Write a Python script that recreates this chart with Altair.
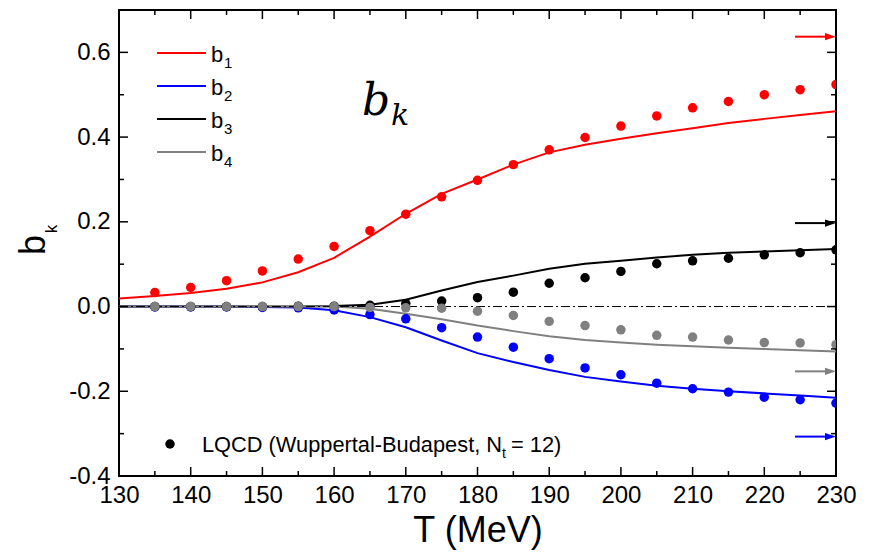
import altair as alt
import pandas as pd

# ---------------- data ----------------
series = ["b1", "b2", "b3", "b4"]
colors = ["#ff0000", "#0000ff", "#000000", "#808080"]

T_line = [130, 135, 140, 145, 150, 155, 160, 165, 170, 175, 180,
          185, 190, 195, 200, 205, 210, 215, 220, 225, 230]
b1_line = [0.019, 0.025, 0.032, 0.042, 0.057, 0.081, 0.115, 0.165, 0.219, 0.266, 0.300,
           0.335, 0.364, 0.382, 0.396, 0.409, 0.421, 0.433, 0.443, 0.452, 0.461]
b2_line = [0.0, 0.0, 0.0, 0.0, -0.001, -0.002, -0.009, -0.025, -0.049, -0.080, -0.110,
           -0.131, -0.150, -0.166, -0.177, -0.187, -0.194, -0.200, -0.205, -0.210, -0.215]
b3_line = [0.0, 0.0, 0.0, 0.0, 0.0, 0.0, 0.001, 0.004, 0.016, 0.038, 0.058,
           0.073, 0.089, 0.101, 0.108, 0.116, 0.122, 0.127, 0.130, 0.133, 0.136]
b4_line = [0.0, 0.0, 0.0, 0.0, 0.0, 0.0, 0.0, -0.005, -0.017, -0.030, -0.045,
           -0.058, -0.070, -0.079, -0.085, -0.090, -0.094, -0.097, -0.100, -0.103, -0.106]

T_pts = [135, 140, 145, 150, 155, 160, 165, 170, 175, 180,
         185, 190, 195, 200, 205, 210, 215, 220, 225, 230]
b1_pts = [0.033, 0.045, 0.061, 0.084, 0.112, 0.142, 0.179, 0.218, 0.259, 0.298,
          0.335, 0.370, 0.399, 0.426, 0.450, 0.469, 0.484, 0.500, 0.512, 0.524]
b2_pts = [-0.001, -0.001, -0.001, -0.002, -0.003, -0.008, -0.019, -0.029, -0.050, -0.072,
          -0.096, -0.123, -0.145, -0.161, -0.181, -0.194, -0.202, -0.214, -0.220, -0.228]
b3_pts = [0.0, 0.0, 0.0, 0.0, 0.001, 0.001, 0.003, 0.007, 0.013, 0.021,
          0.034, 0.055, 0.068, 0.083, 0.101, 0.108, 0.114, 0.122, 0.127, 0.134]
b4_pts = [0.0, 0.0, 0.0, 0.0, 0.0, 0.0, -0.002, -0.003, -0.004, -0.011,
          -0.021, -0.035, -0.045, -0.055, -0.068, -0.072, -0.079, -0.085, -0.086, -0.090]

# Stefan-Boltzmann limits (arrows at the right edge)
sb_limits = [0.637, -0.307, 0.197, -0.153]

x_major = [130, 140, 150, 160, 170, 180, 190, 200, 210, 220, 230]
x_minor = [135, 145, 155, 165, 175, 185, 195, 205, 215, 225]
y_major = [-0.4, -0.2, 0.0, 0.2, 0.4, 0.6]
y_minor = [-0.3, -0.1, 0.1, 0.3, 0.5, 0.7]

# ---------------- tables ----------------
lines_df = pd.concat([pd.DataFrame({"T": T_line, "b": v, "s": s})
                      for s, v in zip(series, [b1_line, b2_line, b3_line, b4_line])])
pts_df = pd.concat([pd.DataFrame({"T": T_pts, "b": v, "s": s, "o": i})
                    for i, (s, v) in enumerate(zip(series, [b1_pts, b2_pts, b3_pts, b4_pts]))])
sb_df = pd.DataFrame({"b": sb_limits, "s": series})
zero_df = pd.DataFrame({"T": [130, 230], "b": [0.0, 0.0]})
one = pd.DataFrame({"a": [0]})

W, H = 717, 466
FONT = "Liberation Sans"

xs = alt.Scale(domain=[130, 230], nice=False, zero=False)
ys = alt.Scale(domain=[-0.4, 0.7], nice=False, zero=False)
cs = alt.Scale(domain=series, range=colors)

x_axis = alt.Axis(values=x_major, format="d", labelFontSize=24, labelFont=FONT,
                  labelColor="black", domain=False, ticks=False, grid=False,
                  labelPadding=7, labelFlush=False, labelOverlap=False,
                  title="T (MeV)", titleFont=FONT, titleFontSize=36,
                  titleFontWeight="normal", titleColor="black", titlePadding=6)
y_axis = alt.Axis(values=y_major, labelFontSize=24, labelFont=FONT, labelColor="black",
                  labelExpr="(datum.value < 0 ? '-' : '') + format(abs(datum.value), '.1f')",
                  domain=False, ticks=False, grid=False, labelPadding=9,
                  labelOverlap=False, title=None)

X = alt.X("T:Q", scale=xs, axis=x_axis)
Y = alt.Y("b:Q", scale=ys, axis=y_axis)
C = alt.Color("s:N", scale=cs, legend=None)

lines = alt.Chart(lines_df).mark_line(strokeWidth=2, clip=True).encode(
    x=X, y=Y, color=C, detail="s:N")

zero = alt.Chart(zero_df).mark_line(color="black", strokeWidth=1,
                                    strokeDash=[9, 3, 2, 3]).encode(x=X, y=Y)

pts = alt.Chart(pts_df).mark_circle(size=90, opacity=1, clip=True).encode(
    x=X, y=Y, color=C, order="o:Q")

# arrows for limits
arrow_shaft = alt.Chart(sb_df).mark_rule(strokeWidth=2).encode(
    y=Y, x=alt.value(676), x2=alt.value(708), color=C)
arrow_head = alt.Chart(sb_df).mark_point(shape="M-1,-0.65L1,0L-1,0.65Z", filled=True,
                                         size=121, opacity=1).encode(
    y=Y, x=alt.value(711.5), color=C)

# inward ticks on all four sides
def xticks(vals, L):
    d = pd.DataFrame({"T": vals})
    bot = alt.Chart(d).mark_rule(color="black", strokeWidth=1.5).encode(
        x=X, y=alt.value(H), y2=alt.value(H - L))
    top = alt.Chart(d).mark_rule(color="black", strokeWidth=1.5).encode(
        x=X, y=alt.value(0), y2=alt.value(L))
    return [bot, top]

def yticks(vals, L):
    d = pd.DataFrame({"b": vals})
    lft = alt.Chart(d).mark_rule(color="black", strokeWidth=1.5).encode(
        y=Y, x=alt.value(0), x2=alt.value(L))
    rgt = alt.Chart(d).mark_rule(color="black", strokeWidth=1.5).encode(
        y=Y, x=alt.value(W), x2=alt.value(W - L))
    return [lft, rgt]

ticks = xticks(x_major, 9) + xticks(x_minor, 5) + yticks(y_major, 9) + yticks(y_minor, 5)

def txt(s, x, y, size, font=FONT, style="normal", align="left", angle=0):
    return alt.Chart(one).mark_text(text=s, font=font, fontSize=size, fontStyle=style,
                                    align=align, baseline="alphabetic", angle=angle,
                                    color="black").encode(x=alt.value(x), y=alt.value(y))

# legend (top-left)
legend = []
leg_y = [43, 76, 109, 142]
for s, c, yy, k in zip(series, colors, leg_y, ["1", "2", "3", "4"]):
    legend.append(alt.Chart(one).mark_rule(color=c, strokeWidth=2).encode(
        x=alt.value(38), x2=alt.value(87), y=alt.value(yy)))
    legend.append(txt("b", 92, yy + 9, 22))
    legend.append(txt(k, 105, yy + 15, 15))

# LQCD legend (bottom-left)
lq = [
    alt.Chart(one).mark_circle(size=90, color="black", opacity=1).encode(
        x=alt.value(51), y=alt.value(434)),
    txt("LQCD (Wuppertal-Budapest, N", 83, 442, 21.8),
    txt("t", 383, 448, 14),
    txt("= 12)", 392, 442, 21.8),
]

# panel label b_k
label = [txt("b", 243, 105, 44, font="DejaVu Serif", style="italic"),
         txt("k", 272, 115, 30, font="DejaVu Serif", style="italic")]

# y-axis title b_k (rotated)
ytitle = [txt("b", -74, 235, 36, align="center", angle=270),
          txt("k", -62, 219, 17, align="center", angle=270)]

chart = alt.layer(lines, zero, pts, arrow_shaft, arrow_head, *ticks, *legend, *lq,
                  *label, *ytitle).properties(
    width=W, height=H,
    autosize=alt.AutoSizeParams(type="none"),
    padding={"left": 119, "top": 10, "right": 34, "bottom": 80},
    background="white",
).configure_view(stroke="black", strokeWidth=2)

chart.save("out.html", embed_options={"renderer": "svg", "actions": False})
